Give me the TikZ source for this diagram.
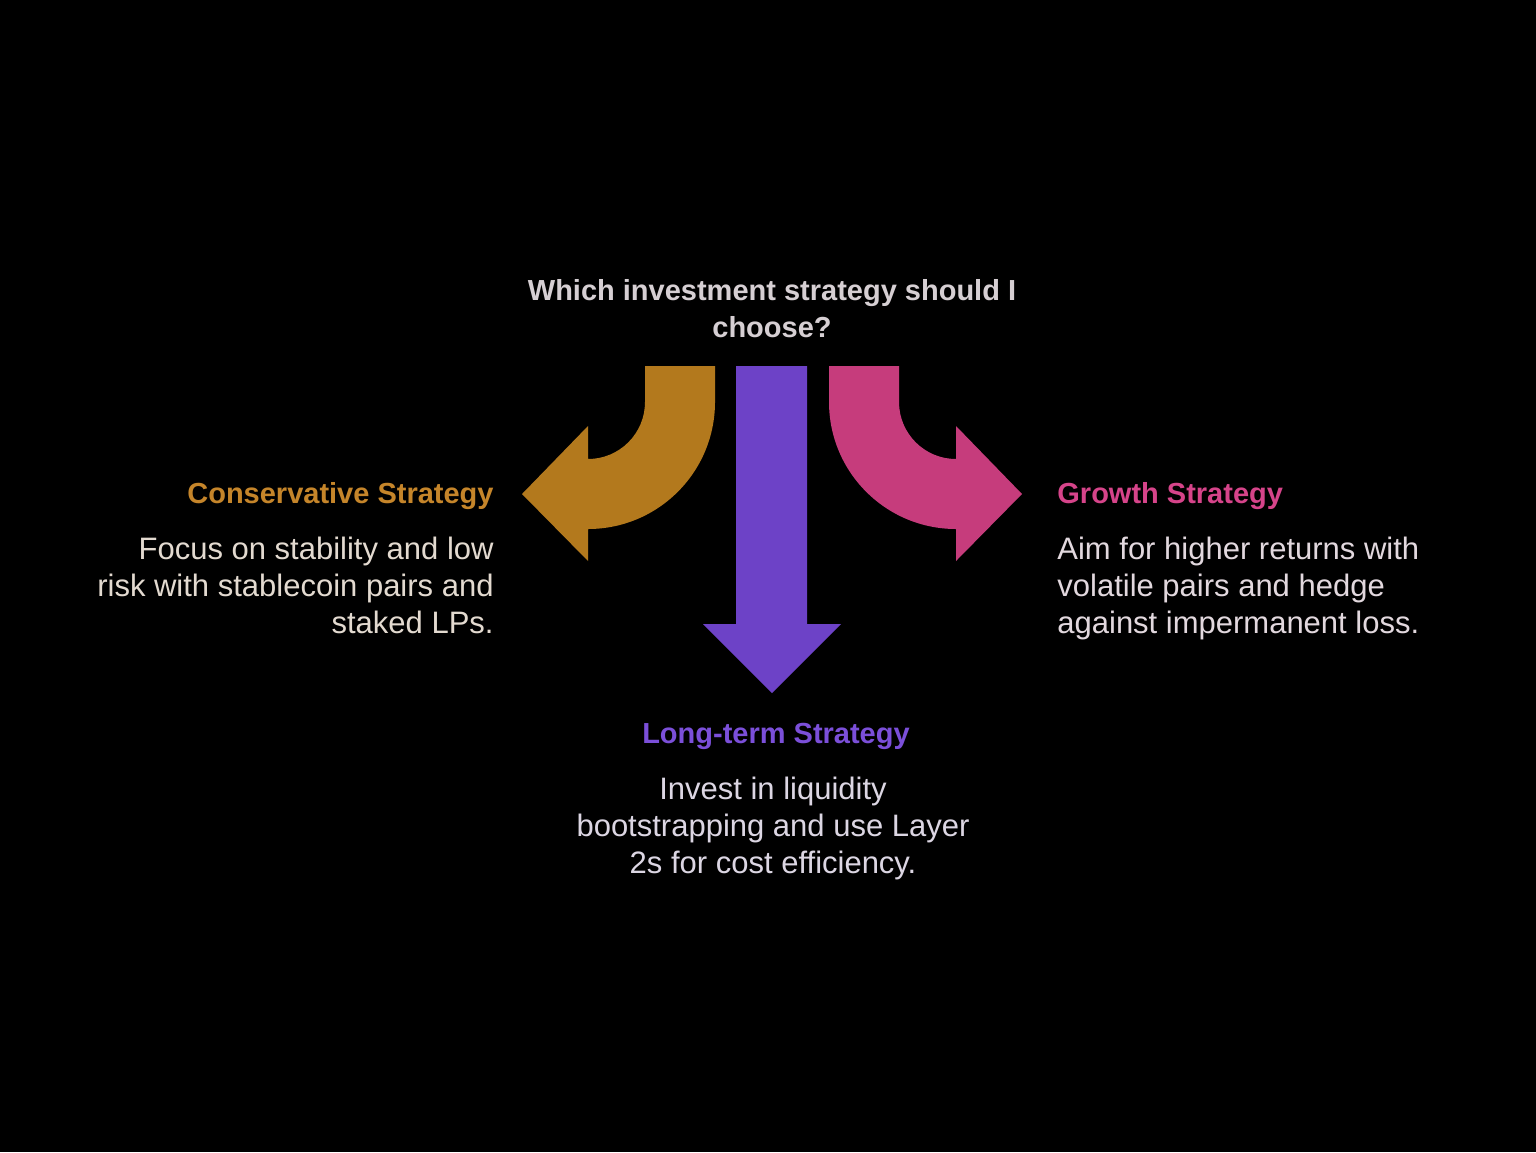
\documentclass[tikz,border=0pt]{standalone}
\usepackage{fontspec}
\setmainfont{Liberation Sans}
\definecolor{consfill}{HTML}{B3791D}
\definecolor{longfill}{HTML}{6D42C7}
\definecolor{growfill}{HTML}{C63C7C}
\definecolor{qgrey}{HTML}{D6CFD3}
\definecolor{constitle}{HTML}{C5852A}
\definecolor{growtitle}{HTML}{D6448A}
\definecolor{longtitle}{HTML}{7B4FD9}
\definecolor{consbody}{HTML}{E3DAD0}
\definecolor{growbody}{HTML}{E2D8DE}
\definecolor{longbody}{HTML}{DCD6E3}

\begin{document}
\begin{tikzpicture}[x=0.5pt,y=-0.5pt,
    heading/.style={font=\bfseries\fontsize{14.5}{18.5}\selectfont, inner sep=0pt},
    bodytext/.style={font=\fontsize{15.5}{18.5}\selectfont, inner sep=0pt}]
                % black page
                \fill[black] (0,0) rectangle (1536,1152);

                % the three arrows
                \fill[consfill] (645,366) -- (715,366) -- (715,402)
                    arc[start angle=0, end angle=90, radius=127]
                    -- (588,561) -- (522,494) -- (588,426) -- (588,459)
                    arc[start angle=90, end angle=0, radius=57] -- cycle;
                \fill[longfill] (736,366) -- (807,366) -- (807,624) -- (841,624)
                    -- (772,693) -- (703,624) -- (736,624) -- cycle;
                \fill[growfill] (829,366) -- (899,366) -- (899,402)
                    arc[start angle=180, end angle=90, radius=57]
                    -- (956,426) -- (1022,494) -- (956,561) -- (956,529)
                    arc[start angle=90, end angle=180, radius=127] -- cycle;

                % question
                \node[heading, text=qgrey, align=center] (question) at (772,309)
                    {Which investment strategy should I\\choose?};

                % left
                \node[heading, text=constitle, anchor=east] (consTitle) at (494,496)
                    {Conservative Strategy};
                \node[bodytext, text=consbody, align=right, anchor=east] (consText) at (494,585)
                    {Focus on stability and low\\risk with stablecoin pairs and\\staked LPs.};

                % right
                \node[heading, text=growtitle, anchor=west] (growTitle) at (1057,496)
                    {Growth Strategy};
                \node[bodytext, text=growbody, align=left, anchor=west] (growText) at (1057,588)
                    {Aim for higher returns with\\volatile pairs and hedge\\against impermanent loss.};

                % bottom
                \node[heading, text=longtitle] (longTitle) at (776,736)
                    {Long-term Strategy};
                \node[bodytext, text=longbody, align=center] (longText) at (773,828)
                    {Invest in liquidity\\bootstrapping and use Layer\\2s for cost efficiency.};
\end{tikzpicture}
\end{document}
